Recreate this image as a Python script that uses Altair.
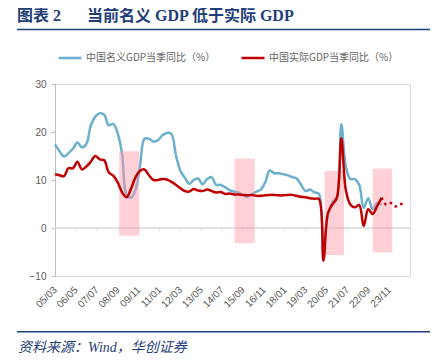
import altair as alt
import pandas as pd

TITLE_NUM = "图表 2"
TITLE_TEXT = "当前名义 GDP 低于实际 GDP"
SOURCE = "资料来源：Wind，华创证券"
SERIES = ["中国名义GDP当季同比（%）", "中国实际GDP当季同比（%）"]
COLORS = ["#6CAFCF", "#C00000"]
NAVY = "#1F3E78"

# quarter-end months, 2005Q1 .. 2023Q2
QUARTERS = [f"{y}-{m:02d}-01" for y in range(2005, 2024) for m in (3, 6, 9, 12)][:74]

NOMINAL = [
    17.4, 16.0, 14.9, 15.6,
    16.5, 17.8, 16.8, 17.5,
    21.3, 23.2, 23.9, 23.6,
    21.4, 21.7, 19.7, 15.3,
    6.9, 6.3, 8.0, 13.0,
    18.6, 18.6, 18.0, 18.3,
    19.3, 19.8, 19.6, 15.3,
    12.0, 10.5, 9.2, 10.0,
    10.3, 9.1, 10.2, 10.6,
    9.0, 9.0, 8.5, 7.9,
    7.6, 7.4, 6.8, 6.5,
    7.0, 7.6, 8.0, 9.6,
    12.0, 11.4, 11.4, 11.2,
    11.0, 10.6, 10.3, 9.0,
    7.7, 8.0, 7.4, 7.1,
    -5.3, 3.0, 5.4, 6.6,
    21.6, 12.8, 10.2, 10.2,
    9.0, 4.2, 6.2, 3.9,
    5.2, 4.8,
]
REAL = [
    11.2, 11.0, 10.8, 12.5,
    12.4, 13.8, 12.2, 12.8,
    13.8, 15.0, 14.3, 14.1,
    11.6, 10.9, 9.5, 7.4,
    6.4, 8.2, 10.6, 11.9,
    12.2, 11.0, 10.0, 10.0,
    10.2, 10.1, 9.6, 9.0,
    8.3, 7.7, 7.6, 8.1,
    7.8, 7.7, 8.0, 7.7,
    7.4, 7.5, 7.1, 7.2,
    7.0, 7.0, 6.9, 6.8,
    6.9, 6.7, 6.7, 6.8,
    6.9, 6.9, 6.8, 6.8,
    6.9, 6.9, 6.7, 6.5,
    6.4, 6.2, 6.1, 6.0,
    -6.8, 3.1, 4.9, 6.3,
    18.7, 7.9, 4.9, 4.3,
    4.8, 0.4, 3.9, 2.9,
    4.5, 6.3,
]
FORECAST_DATES = ["2023-06-01", "2023-09-01", "2023-12-01", "2024-03-01", "2024-06-01", "2024-09-01"]
FORECAST = [6.3, 4.9, 5.2, 4.5, 4.9, 5.1]

BAND_START = ["2008-10-01", "2015-03-15", "2020-03-25", "2022-12-01"]
BAND_END = ["2009-11-15", "2016-05-01", "2021-04-25", "2024-01-05"]
BAND_TOP = [16.0, 14.5, 11.9, 12.4]
BAND_BOTTOM = [-1.6, -3.2, -5.6, -5.1]

TICK_LABELS = ["05/03", "06/05", "07/07", "08/09", "09/11", "11/01", "12/03", "13/05", "14/07",
               "15/09", "16/11", "18/01", "19/03", "20/05", "21/07", "22/09", "23/11"]
AXIS_END = "25/01"


def to_dt(lbl):
    yy, mm = lbl.split("/")
    return alt.DateTime(year=2000 + int(yy), month=int(mm), date=1, utc=True)


def to_str(lbl):
    yy, mm = lbl.split("/")
    return f"20{yy}-{mm}-01"


lines_df = pd.DataFrame({
    "date": QUARTERS * 2,
    "value": NOMINAL + REAL,
    "series": [SERIES[0]] * len(QUARTERS) + [SERIES[1]] * len(QUARTERS),
})
fc_df = pd.DataFrame({"date": FORECAST_DATES, "value": FORECAST})
band_df = pd.DataFrame({"start": BAND_START, "end": BAND_END, "top": BAND_TOP, "bottom": BAND_BOTTOM})
tick_df = pd.DataFrame({"date": [to_str(t) for t in TICK_LABELS + [AXIS_END]]})

xscale = alt.Scale(type="utc", domain=[to_dt(TICK_LABELS[0]), to_dt(AXIS_END)])
yscale = alt.Scale(domain=[-10, 30], nice=False, zero=False)

xaxis = alt.Axis(values=[to_dt(t) for t in TICK_LABELS], format="%y/%m", labelAngle=-45,
                 labelAlign="right", labelBaseline="middle", labelOverlap=False, labelFlush=False,
                 domain=False, ticks=False, grid=False, labelPadding=12, labelColor="#595959",
                 labelFont="Liberation Sans", labelFontSize=10, title=None)
yaxis = alt.Axis(values=list(range(-10, 31, 5)), grid=False, domainColor="#BFBFBF", tickColor="#BFBFBF",
                 tickSize=4, labelColor="#595959", labelFont="Liberation Sans", labelFontSize=10,
                 labelPadding=5, title=None)

color = alt.Color("series:N", scale=alt.Scale(domain=SERIES, range=COLORS), sort=SERIES,
                  legend=alt.Legend(orient="none", legendX=2, legendY=-39, direction="horizontal",
                                    title=None, symbolType="stroke", symbolSize=529,
                                    symbolStrokeWidth=2.5, labelFontSize=10,
                                    labelFont="Noto Sans CJK SC", labelColor="#666666",
                                    columnPadding=20, labelOffset=3, padding=0))

base_x = alt.X("date:T", scale=xscale, axis=xaxis)
base_y = alt.Y("value:Q", scale=yscale, axis=yaxis)

zero = alt.Chart(pd.DataFrame({"v": [0]})).mark_rule(color="#D9D9D9", strokeWidth=1.5).encode(
    y=alt.Y("v:Q", scale=yscale, axis=yaxis))
ticks = alt.Chart(tick_df).mark_rule(color="#D9D9D9", strokeWidth=1).encode(
    x=alt.X("date:T", scale=xscale, axis=xaxis), y=alt.datum(0), y2=alt.datum(-0.6))

blue = alt.Chart(lines_df).transform_filter(alt.datum.series == SERIES[0]).mark_line(
    interpolate="catmull-rom", strokeWidth=2.5).encode(x=base_x, y=base_y, color=color)
bands = alt.Chart(band_df).mark_rect(color="#FF9AA6", opacity=0.45).encode(
    x=alt.X("start:T", scale=xscale, axis=xaxis), x2="end:T",
    y=alt.Y("top:Q", scale=yscale, axis=yaxis), y2="bottom:Q")
red = alt.Chart(lines_df).transform_filter(alt.datum.series == SERIES[1]).mark_line(
    interpolate="catmull-rom", strokeWidth=2.5).encode(x=base_x, y=base_y, color=color)
dotted = alt.Chart(fc_df).mark_line(interpolate="catmull-rom", strokeWidth=2.5, strokeDash=[2.5, 3.5],
                                    color=COLORS[1]).encode(x=base_x, y=base_y)


def text_mark(txt, x, y, **kw):
    return alt.Chart(pd.DataFrame({"t": [txt]})).mark_text(align="left", baseline="alphabetic", **kw).encode(
        text="t:N", x=alt.value(x), y=alt.value(y))


title1 = text_mark(TITLE_NUM, -38, -63, font="Liberation Serif, Noto Sans CJK SC", fontSize=16,
                   fontWeight="bold", color=NAVY)
title2 = text_mark(TITLE_TEXT, 32, -63, font="Liberation Serif, Noto Sans CJK SC", fontSize=16,
                   fontWeight="bold", color=NAVY)
src = text_mark(SOURCE, -37, 268, font="Liberation Serif, Noto Sans CJK SC", fontSize=14,
                fontStyle="italic", color=NAVY)
rule_top = alt.Chart(pd.DataFrame({"k": [0]})).mark_rule(color=NAVY, strokeWidth=1.5).encode(
    x=alt.value(-38), x2=alt.value(375), y=alt.value(-54.5))
rule_bot = alt.Chart(pd.DataFrame({"k": [0]})).mark_rule(color=NAVY, strokeWidth=1.5).encode(
    x=alt.value(-38), x2=alt.value(375), y=alt.value(247.7))

chart = alt.layer(zero, ticks, blue, bands, red, dotted, title1, title2, src, rule_top, rule_bot).properties(
    width=355, height=192,
    autosize=alt.AutoSizeParams(type="none"),
    padding={"left": 47, "top": 76, "right": 22, "bottom": 79},
).configure_view(stroke=None).configure(background="white")

chart.save("out.html", embed_options={"renderer": "svg", "actions": False})
